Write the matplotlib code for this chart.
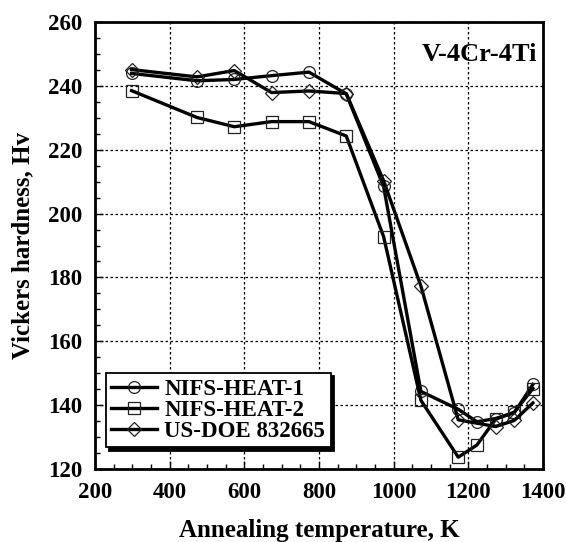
import matplotlib
matplotlib.use("Agg")
import matplotlib.pyplot as plt
from matplotlib.ticker import MultipleLocator

# Data
temp_heat1 = [298, 473, 573, 673, 773, 873, 973, 1073, 1173, 1223, 1273, 1323, 1373]
hv_heat1 = [243.9, 241.6, 242.0, 243.2, 244.3, 237.5, 208.5, 144.3, 138.7, 134.8, 135.8, 137.6, 146.5]

temp_heat2 = [298, 473, 573, 673, 773, 873, 973, 1073, 1173, 1223, 1273, 1323, 1373]
hv_heat2 = [238.5, 230.1, 227.2, 228.8, 228.8, 224.3, 192.8, 141.5, 123.7, 127.5, 135.6, 137.8, 145.2]

temp_doe = [298, 473, 573, 673, 773, 873, 973, 1073, 1173, 1273, 1323, 1373]
hv_doe = [245.1, 242.8, 244.8, 237.9, 238.4, 237.6, 210.3, 177.3, 135.4, 133.3, 135.2, 140.7]

labels = ["NIFS-HEAT-1", "NIFS-HEAT-2", "US-DOE 832665"]
markers = ["o", "s", "D"]
annotation = "V-4Cr-4Ti"
xlabel = "Annealing temperature, K"
ylabel = "Vickers hardness, Hv"

plt.rcParams['font.family'] = ['Liberation Serif', 'DejaVu Serif']
plt.rcParams['font.weight'] = 'bold'

fig = plt.figure(figsize=(5.66, 5.42), dpi=100)
ax = fig.add_axes([95/566, 1-469/542, (543-95)/566, (469-22)/542])

series = [(temp_heat1, hv_heat1), (temp_heat2, hv_heat2), (temp_doe, hv_doe)]
msizes = [8.5, 8.5, 7.5]
for (t, h), lab, mk, ms in zip(series, labels, markers, msizes):
    ax.plot(t, h, color='black', lw=2.4, marker=mk, ms=ms,
            mfc='none', mec='#222222', mew=0.9, label=lab)

ax.set_xlim(200, 1400)
ax.set_ylim(120, 260)
ax.xaxis.set_major_locator(MultipleLocator(200))
ax.xaxis.set_minor_locator(MultipleLocator(50))
ax.yaxis.set_major_locator(MultipleLocator(20))
ax.yaxis.set_minor_locator(MultipleLocator(5))
ax.tick_params(which='both', direction='in', top=False, right=False, width=1)
ax.tick_params(which='major', length=6, labelsize=16.5)
ax.tick_params(axis='x', which='major', pad=9)
ax.tick_params(axis='y', which='major', pad=9)
ax.tick_params(which='minor', length=3.5)
for lab in ax.get_xticklabels() + ax.get_yticklabels():
    lab.set_fontweight('bold')

ax.grid(True, which='major', color='black', linestyle=(0, (2, 2)), linewidth=0.9)
for sp in ax.spines.values():
    sp.set_linewidth(2)

ax.set_xlabel(xlabel, fontsize=18, fontweight='bold', labelpad=12)
ax.set_ylabel(ylabel, fontsize=18, fontweight='bold', labelpad=10)

ax.text(0.987, 0.928, annotation, transform=ax.transAxes, ha='right', va='center',
        fontsize=19, fontweight='bold')

leg = ax.legend(loc='upper left', bbox_to_anchor=(0.024, 0.215), borderaxespad=0,
                frameon=True, fancybox=False, edgecolor='black', framealpha=1,
                shadow={'color': 'black', 'alpha': 1, 'ox': 2.5, 'oy': -2.5},
                prop={'family': 'Liberation Serif', 'weight': 'bold', 'size': 16.5},
                handlelength=2.0, handletextpad=0.3, labelspacing=0.0,
                borderpad=0.25, numpoints=1)
leg.get_frame().set_linewidth(1.3)

fig.savefig("out.png", dpi=100)
